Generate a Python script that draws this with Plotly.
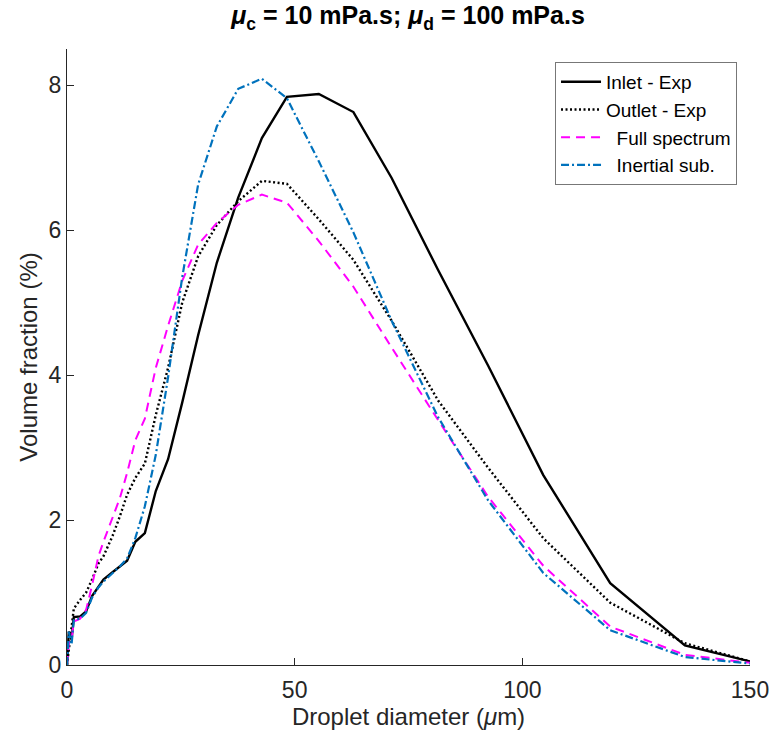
import plotly.graph_objects as go

# Droplet diameter bins (µm)
diameter = [0, 0.4, 1.0, 1.5, 2.9, 4.2, 5.5, 6.9, 8.0, 10.0, 11.6, 13.2, 15.0, 17.1,
            19.5, 22.2, 25.3, 28.8, 32.9, 37.6, 42.8, 48.3, 55.3, 62.9, 71.3, 81.5,
            92.5, 104.6, 119.3, 135.7, 150]

inlet_exp = [0, 0.46, 0.35, 0.66, 0.67, 0.74, 0.95, 1.08, 1.18, 1.28, 1.36, 1.44, 1.70, 1.82,
             2.40, 2.84, 3.62, 4.55, 5.55, 6.45, 7.27, 7.84, 7.88, 7.63, 6.72, 5.45,
             4.13, 2.62, 1.13, 0.27, 0.05]

outlet_exp = [0, 0.22, 0.50, 0.78, 0.90, 1.00, 1.18, 1.40, 1.50, 1.78, 2.05, 2.35, 2.58, 2.78,
              3.45, 4.10, 5.00, 5.64, 6.07, 6.40, 6.68, 6.64, 6.15, 5.59, 4.75, 3.65,
              2.72, 1.75, 0.86, 0.30, 0.05]

full_spectrum = [0, 0.30, 0.35, 0.60, 0.64, 0.76, 1.10, 1.50, 1.70, 2.02, 2.30, 2.65, 3.10, 3.40,
                 4.10, 4.68, 5.30, 5.80, 6.10, 6.35, 6.49, 6.38, 5.85, 5.22, 4.38, 3.38,
                 2.32, 1.37, 0.53, 0.14, 0.03]

inertial_sub = [0, 0.46, 0.28, 0.62, 0.64, 0.72, 0.93, 1.07, 1.15, 1.26, 1.36, 1.47, 1.75, 2.19,
                2.90, 3.97, 5.35, 6.63, 7.43, 7.95, 8.09, 7.82, 6.95, 5.97, 4.75, 3.42,
                2.27, 1.27, 0.48, 0.11, 0.02]

x_ticks = [0, 50, 100, 150]
y_ticks = [0, 2, 4, 6, 8]

FONT = "Liberation Sans, Arial, sans-serif"
INK = "#262626"

fig = go.Figure()
fig.add_trace(go.Scatter(x=diameter, y=inlet_exp, mode="lines", name="Inlet - Exp",
                         line=dict(color="black", width=2.4, dash="solid")))
fig.add_trace(go.Scatter(x=diameter, y=outlet_exp, mode="lines", name="Outlet - Exp",
                         line=dict(color="black", width=2.4, dash="2px,2.5px")))
fig.add_trace(go.Scatter(x=diameter, y=full_spectrum, mode="lines",
                         name="\u00a0\u00a0Full spectrum",
                         line=dict(color="#FF00FF", width=2.0, dash="9px,6px")))
fig.add_trace(go.Scatter(x=diameter, y=inertial_sub, mode="lines",
                         name="\u00a0\u00a0Inertial sub.",
                         line=dict(color="#0072BD", width=2.2, dash="8px,3px,2px,3px")))

fig.update_layout(
    width=772, height=742,
    margin=dict(l=67, r=22, t=49, b=77, autoexpand=False),
    plot_bgcolor="white", paper_bgcolor="white",
    font=dict(family=FONT, color=INK, size=22),
    title=dict(text="<b><i>μ</i><sub>c</sub> = 10 mPa.s; <i>μ</i><sub>d</sub> = 100 mPa.s</b>",
               x=0.5285, xanchor="center", y=0.979, yanchor="middle",
               font=dict(family=FONT, size=25, color="black")),
    showlegend=True,
    legend=dict(x=0.981, xanchor="right", y=0.979, yanchor="top",
                bgcolor="white", bordercolor="#777777", borderwidth=1,
                font=dict(family=FONT, size=19, color="black"),
                tracegroupgap=0, itemwidth=40,
                traceorder="normal"),
)
fig.update_xaxes(range=[0, 150], tickvals=x_ticks, ticks="inside", ticklen=7,
                 tickcolor=INK, showline=True, linecolor=INK, linewidth=1,
                 mirror=False, showgrid=False, zeroline=False, automargin=False,
                 tickfont=dict(size=23, color=INK), ticklabelstandoff=4,
                 title=dict(text="Droplet diameter (<i>μ</i>m)", font=dict(size=24, color=INK),
                            standoff=4))
fig.update_yaxes(range=[0, 8.5], tickvals=y_ticks, ticks="inside", ticklen=7,
                 tickcolor=INK, showline=True, linecolor=INK, linewidth=1,
                 mirror=False, showgrid=False, zeroline=False, automargin=False,
                 tickfont=dict(size=23, color=INK),
                 title=dict(text="Volume fraction (%)", font=dict(size=24, color=INK),
                            standoff=4))

fig.write_html("out.html")
